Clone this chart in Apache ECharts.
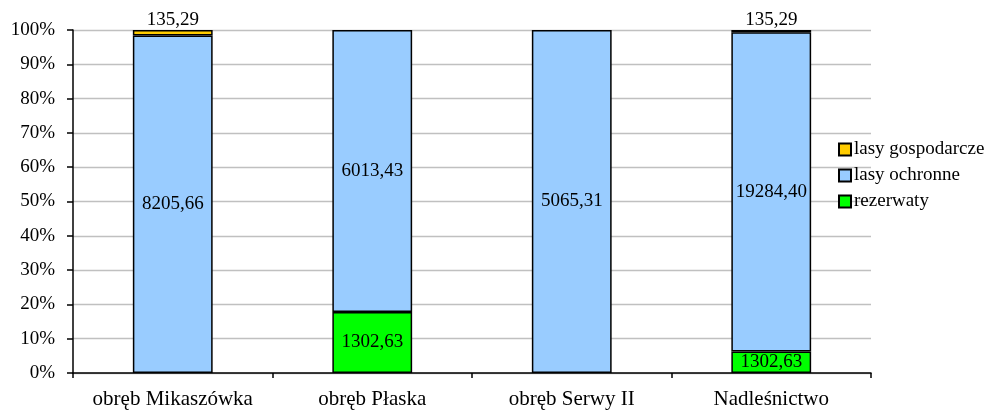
<!DOCTYPE html>
<html>
<head>
<meta charset="utf-8">
<script src="https://cdn.jsdelivr.net/npm/echarts@6/dist/echarts.min.js"></script>
<style>
html,body{margin:0;padding:0;background:#fff;}
#c{width:991px;height:410px;}
</style>
</head>
<body>
<div id="c"></div>
<script>
const categories = ['obręb Mikaszówka', 'obręb Płaska', 'obręb Serwy II', 'Nadleśnictwo'];
const rezerwaty = [0, 1302.63, 0, 1302.63];
const lasyOchronne = [8205.66, 6013.43, 5065.31, 19284.40];
const lasyGospodarcze = [135.29, 0, 0, 135.29];
const yTicks = [0, 10, 20, 30, 40, 50, 60, 70, 80, 90, 100];

const totals = categories.map((_, i) => rezerwaty[i] + lasyOchronne[i] + lasyGospodarcze[i]);
function pct(arr) {
  return arr.map((v, i) => v > 0 ? { value: v / totals[i] * 100, raw: v } : { value: '-', raw: 0 });
}
function fmt(p) {
  const r = p.data.raw;
  if (!r) return '';
  return r.toFixed(2).replace('.', ',');
}
const FONT = 'Liberation Serif';
const lbl = { show: true, formatter: fmt, fontFamily: FONT, fontSize: 19, color: '#000' };
const item = { borderColor: '#000', borderWidth: 1.5 };

const chart = echarts.init(document.getElementById('c'), null, { renderer: 'canvas' });
chart.setOption({
  animation: false,
  grid: { left: 73, right: 120, top: 30, bottom: 34, containLabel: false },
  legend: {
    orient: 'vertical',
    left: 833, top: 135,
    itemWidth: 12, itemHeight: 12, itemGap: 7,
    textStyle: { fontFamily: FONT, fontSize: 19, lineHeight: 17, color: '#000', padding: [0, 0, 0, -2] },
    icon: 'rect',
    data: ['lasy gospodarcze', 'lasy ochronne', 'rezerwaty']
  },
  xAxis: {
    type: 'category',
    data: categories,
    axisLine: { lineStyle: { color: '#000', width: 1.5 } },
    axisTick: { show: true, interval: 0, alignWithLabel: false, length: 5, lineStyle: { color: '#000', width: 1.5 } },
    axisLabel: { interval: 0, fontFamily: FONT, fontSize: 21, color: '#000', margin: 16 }
  },
  yAxis: {
    type: 'value',
    min: 0, max: 100, interval: 10,
    axisLine: { show: true, lineStyle: { color: '#000', width: 1.5 } },
    axisTick: { show: true, length: 6, lineStyle: { color: '#000', width: 1.5 } },
    axisLabel: { fontFamily: FONT, fontSize: 19, color: '#000', margin: 18,
      formatter: v => yTicks.includes(v) ? v + '%' : '' },
    splitLine: { lineStyle: { color: '#c0c0c0', width: 1.3 } }
  },
  series: [
    { name: 'rezerwaty', type: 'bar', stack: 's', barWidth: '40%', data: pct(rezerwaty),
      itemStyle: Object.assign({ color: '#00ff00' }, item), label: Object.assign({ position: 'inside' }, lbl) },
    { name: 'lasy ochronne', type: 'bar', stack: 's', data: pct(lasyOchronne),
      itemStyle: Object.assign({ color: '#99ccff' }, item), label: Object.assign({ position: 'inside' }, lbl) },
    { name: 'lasy gospodarcze', type: 'bar', stack: 's', data: pct(lasyGospodarcze),
      itemStyle: Object.assign({ color: '#ffcc00' }, item), label: Object.assign({ position: 'top', distance: 0 }, lbl) }
  ]
});
</script>
</body>
</html>
